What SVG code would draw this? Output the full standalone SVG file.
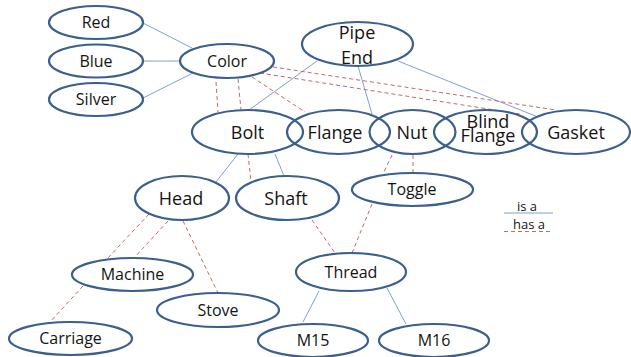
<svg xmlns="http://www.w3.org/2000/svg" width="631" height="357" viewBox="0 0 631 357">
<style>
.n{fill:none;stroke:#3b5f8e;stroke-width:2.2}
.t{font-family:"Open Sans","Noto Sans",sans-serif;fill:#141414;text-anchor:middle}
.s{font-size:16px}
.b{font-size:18px}
.l{font-size:13px}
.isa{stroke:#7f9fd3;stroke-width:1;fill:none}
.hasa{stroke:#c46a67;stroke-width:1;stroke-dasharray:4,3;fill:none}
</style>
<rect width="631" height="357" fill="#ffffff"/>
<g id="connectors">
<line class="isa" x1="143" y1="23" x2="192" y2="48"/>
<line class="isa" x1="143" y1="61" x2="180" y2="61"/>
<line class="isa" x1="143" y1="98" x2="193" y2="73"/>
<line class="isa" x1="317" y1="61" x2="249" y2="110"/>
<line class="isa" x1="358" y1="66" x2="372" y2="114"/>
<line class="isa" x1="398" y1="61" x2="538" y2="117"/>
<line class="isa" x1="238" y1="154" x2="216" y2="182"/>
<line class="isa" x1="275" y1="154" x2="284" y2="176"/>
<line class="isa" x1="319" y1="291" x2="303" y2="322"/>
<line class="isa" x1="387" y1="288" x2="406" y2="324"/>
<line class="hasa" x1="216" y1="82" x2="218" y2="112"/>
<line class="hasa" x1="238" y1="79" x2="241" y2="110"/>
<line class="hasa" x1="252" y1="77" x2="305" y2="112"/>
<line class="hasa" x1="273" y1="67" x2="556" y2="110"/>
<line class="hasa" x1="260" y1="73" x2="520" y2="114"/>
<line class="hasa" x1="248" y1="154" x2="251" y2="182"/>
<line class="hasa" x1="392" y1="155" x2="383" y2="174"/>
<line class="hasa" x1="372" y1="204" x2="352" y2="253"/>
<line class="hasa" x1="413" y1="155" x2="413" y2="173"/>
<line class="hasa" x1="312" y1="220" x2="335" y2="253"/>
<line class="hasa" x1="149" y1="214" x2="107" y2="259"/>
<line class="hasa" x1="168" y1="221" x2="134" y2="258"/>
<line class="hasa" x1="183" y1="221" x2="218" y2="293"/>
<line class="hasa" x1="83" y1="286" x2="50" y2="322"/>
</g>
<g id="red"><ellipse class="n" cx="96" cy="22.5" rx="47" ry="16.5"/><text class="t s" x="96" y="28.2">Red</text></g>
<g id="blue"><ellipse class="n" cx="96" cy="61" rx="47" ry="16.5"/><text class="t s" x="96" y="66.7">Blue</text></g>
<g id="silver"><ellipse class="n" cx="96" cy="99.5" rx="47" ry="16.5"/><text class="t s" x="96" y="105.2">Silver</text></g>
<g id="color"><ellipse class="n" cx="227" cy="61" rx="47" ry="17"/><text class="t s" x="227" y="66.7">Color</text></g>
<g id="pipe-end"><ellipse class="n" cx="357.5" cy="44" rx="55.5" ry="22"/><text class="t b" x="357" y="39">Pipe</text><text class="t b" x="357" y="64">End</text></g>
<g id="bolt"><ellipse class="n" cx="247.5" cy="132" rx="55.5" ry="22"/><text class="t b" x="247.5" y="138.5">Bolt</text></g>
<g id="flange"><ellipse class="n" cx="338.5" cy="132" rx="51.5" ry="22"/><text class="t b" x="335" y="138.5">Flange</text></g>
<g id="nut"><ellipse class="n" cx="412.5" cy="132" rx="43" ry="22"/><text class="t b" x="412" y="138.5">Nut</text></g>
<g id="blind-flange"><ellipse class="n" cx="485.5" cy="132" rx="51.5" ry="22"/><text class="t b" x="488" y="128">Blind</text><text class="t b" x="488" y="142">Flange</text></g>
<g id="gasket"><ellipse class="n" cx="576" cy="132" rx="54" ry="22"/><text class="t b" x="576" y="138.5">Gasket</text></g>
<g id="head"><ellipse class="n" cx="182" cy="198" rx="47" ry="22"/><text class="t b" x="181" y="204.5">Head</text></g>
<g id="shaft"><ellipse class="n" cx="287.5" cy="198" rx="51.5" ry="22"/><text class="t b" x="286" y="204.5">Shaft</text></g>
<g id="toggle"><ellipse class="n" cx="412.5" cy="189.5" rx="60.5" ry="16.5"/><text class="t s" x="412" y="195.2">Toggle</text></g>
<g id="machine"><ellipse class="n" cx="132.5" cy="274.5" rx="60.5" ry="16.5"/><text class="t s" x="132.5" y="280.2">Machine</text></g>
<g id="stove"><ellipse class="n" cx="218" cy="310" rx="61" ry="17"/><text class="t s" x="218" y="315.7">Stove</text></g>
<g id="thread"><ellipse class="n" cx="351" cy="272" rx="55" ry="19"/><text class="t s" x="351" y="277.7">Thread</text></g>
<g id="carriage"><ellipse class="n" cx="70.5" cy="338.5" rx="61.5" ry="16.5"/><text class="t s" x="70.5" y="344.2">Carriage</text></g>
<g id="m15"><ellipse class="n" cx="313" cy="340.5" rx="55" ry="16.5"/><text class="t s" x="313" y="346.2">M15</text></g>
<g id="m16"><ellipse class="n" cx="434" cy="340.5" rx="55" ry="16.5"/><text class="t s" x="434" y="346.2">M16</text></g>
<g id="legend">
<text class="t l" x="527" y="210.5">is a</text>
<line class="isa" x1="504" y1="213" x2="553" y2="213"/>
<text class="t l" x="529" y="229">has a</text>
<line class="hasa" x1="504" y1="231.5" x2="553" y2="231.5"/>
</g>
</svg>
